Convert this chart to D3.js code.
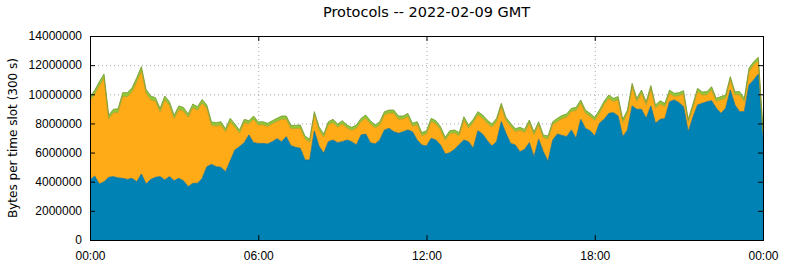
<!DOCTYPE html>
<html>
<head>
<meta charset="utf-8">
<script src="https://cdn.jsdelivr.net/npm/d3@7"></script>
<style>
  body { margin: 0; background: #fff; }
  svg { display: block; font-family: "DejaVu Sans", sans-serif; }
  .grid line { stroke: #a8a8a8; stroke-dasharray: 1,3; }
  .grid path { display: none; }
  .axis path { display: none; }
  .axis line { stroke: #000; }
  .axis text { font-size: 12px; fill: #000; }
</style>
</head>
<body>
<div id="chart"></div>
<script>
// 10 minute slots, 2022-02-09 00:00 .. 24:00 GMT, values in million bytes
var title = "Protocols -- 2022-02-09 GMT";
var yLabel = "Bytes per time slot (300 s)";
var yTicks = [0, 2000000, 4000000, 6000000, 8000000, 10000000, 12000000, 14000000];
var xTickLabels = ["00:00", "06:00", "12:00", "18:00", "00:00"];

// top of the whole stack
var total = [
  9.84, 10.27, 10.87, 11.39, 8.56, 8.97, 9.01, 10.11, 10.11, 10.45, 11.14, 11.90,
  10.34, 9.88, 9.77, 9.04, 9.88, 9.49, 8.56, 9.20, 9.10, 8.65, 9.33, 9.15,
  9.65, 9.26, 8.10, 8.05, 8.12, 7.64, 8.35, 7.96, 7.55, 8.28, 8.19, 8.51,
  8.10, 8.12, 8.01, 8.19, 8.35, 8.51, 8.51, 7.87, 7.87, 7.89, 7.14, 6.91,
  8.81, 7.78, 7.27, 8.12, 8.28, 7.96, 8.19, 7.89, 7.73, 7.89, 8.35, 8.58,
  8.19, 7.89, 8.12, 8.81, 8.92, 8.92, 8.51, 8.51, 8.69, 8.01, 8.12, 7.37,
  7.50, 8.35, 8.19, 7.78, 7.05, 7.50, 7.55, 7.37, 8.46, 7.89, 8.28, 8.81,
  8.58, 8.23, 7.96, 8.35, 9.38, 8.42, 8.01, 7.64, 7.73, 7.59, 8.23, 7.43,
  8.12, 7.21, 7.14, 8.12, 8.35, 8.55, 8.65, 9.04, 9.10, 9.61, 8.92, 8.69,
  8.42, 8.92, 9.52, 9.95, 9.72, 9.84, 8.28, 8.92, 10.75, 9.72, 10.29, 9.49,
  10.60, 9.27, 9.56, 9.38, 10.29, 10.07, 10.11, 10.25, 8.28, 9.33, 10.41, 10.16,
  10.18, 10.52, 9.72, 9.84, 9.95, 11.21, 10.18, 10.18, 9.72, 11.78, 12.24, 12.54,
  7.60
];

var blue = [
  4.12, 4.39, 3.84, 4.00, 4.30, 4.35, 4.26, 4.23, 4.16, 4.23, 4.00, 4.53,
  3.84, 4.16, 4.30, 4.35, 4.12, 4.35, 4.07, 4.23, 4.07, 3.66, 3.89, 3.89,
  4.23, 5.03, 5.19, 5.03, 4.99, 4.69, 5.42, 6.18, 6.41, 6.68, 7.21, 6.68,
  6.63, 6.63, 6.59, 6.75, 6.95, 6.75, 7.09, 6.47, 6.36, 6.29, 5.49, 5.49,
  7.48, 6.45, 5.95, 6.75, 6.86, 6.68, 6.75, 6.86, 6.75, 6.52, 7.21, 7.27,
  6.68, 6.59, 6.86, 7.55, 7.66, 7.43, 7.32, 7.43, 7.55, 7.43, 6.86, 6.52,
  6.45, 6.98, 6.86, 6.52, 5.90, 5.99, 6.22, 6.56, 6.86, 6.75, 6.29, 7.50,
  7.27, 6.82, 6.45, 6.75, 8.12, 7.32, 6.63, 6.52, 6.06, 6.22, 6.68, 5.72,
  6.91, 6.06, 5.40, 6.86, 7.27, 7.18, 7.09, 7.55, 6.98, 8.28, 7.66, 7.50,
  7.14, 8.01, 8.28, 8.69, 8.74, 8.51, 7.09, 7.55, 9.20, 8.97, 8.97, 8.35,
  9.20, 8.01, 8.28, 8.33, 9.49, 9.61, 9.43, 9.15, 7.43, 8.42, 9.27, 9.38,
  9.49, 9.56, 9.04, 8.69, 9.04, 10.29, 9.27, 8.81, 8.81, 10.64, 10.98, 11.39,
  7.00
];

var green = [
  0.26, 0.26, 0.28, 0.28, 0.24, 0.24, 0.26, 0.26, 0.28, 0.26, 0.28, 0.28,
  0.26, 0.26, 0.24, 0.24, 0.26, 0.24, 0.22, 0.24, 0.24, 0.22, 0.24, 0.24,
  0.24, 0.24, 0.22, 0.22, 0.22, 0.21, 0.22, 0.21, 0.21, 0.21, 0.21, 0.22,
  0.21, 0.21, 0.21, 0.21, 0.21, 0.22, 0.22, 0.21, 0.21, 0.21, 0.20, 0.20,
  0.21, 0.21, 0.20, 0.21, 0.21, 0.21, 0.21, 0.20, 0.20, 0.21, 0.21, 0.21,
  0.21, 0.20, 0.21, 0.21, 0.21, 0.21, 0.21, 0.21, 0.21, 0.20, 0.20, 0.20,
  0.20, 0.21, 0.21, 0.20, 0.20, 0.20, 0.20, 0.20, 0.21, 0.20, 0.21, 0.21,
  0.21, 0.21, 0.20, 0.21, 0.21, 0.21, 0.20, 0.20, 0.20, 0.20, 0.21, 0.20,
  0.20, 0.20, 0.20, 0.20, 0.21, 0.21, 0.21, 0.21, 0.21, 0.21, 0.21, 0.21,
  0.20, 0.21, 0.21, 0.22, 0.21, 0.21, 0.20, 0.21, 0.22, 0.21, 0.21, 0.21,
  0.22, 0.21, 0.21, 0.21, 0.21, 0.21, 0.21, 0.21, 0.20, 0.21, 0.21, 0.21,
  0.21, 0.22, 0.21, 0.21, 0.21, 0.22, 0.21, 0.21, 0.21, 0.22, 0.22, 0.22,
  0.20
];

var colors = ["#0083b4", "#ffaa17", "#8fc83a"];
var edges = ["#0a6f98", "#b59a22", "#74952a"];

// 1: dimensions
var margin = {top: 36, right: 22, bottom: 24, left: 90};
var width = 785 - margin.left - margin.right,
    height = 264 - margin.top - margin.bottom;

var svg = d3.select("#chart").append("svg")
    .attr("width", width + margin.left + margin.right)
    .attr("height", height + margin.top + margin.bottom);

var g = svg.append("g")
    .attr("transform", "translate(" + margin.left + "," + margin.top + ")");

// 2: data table, orange is what is left between blue and green
var t0 = Date.UTC(2022, 1, 9);
var rows = total.map(function(t, i) {
  var other = Math.max(0, t - blue[i] - green[i]);
  return {
    time: new Date(t0 + i * 600000),
    blue: blue[i] * 1e6,
    other: other * 1e6,
    green: green[i] * 1e6
  };
});

var keys = ["blue", "other", "green"];
var series = d3.stack().keys(keys)(rows);

// 3: scales
var x = d3.scaleUtc()
    .domain([new Date(t0), new Date(t0 + 86400000)])
    .range([0, width]);
var y = d3.scaleLinear()
    .domain([0, 14000000])
    .range([height, 0]);

var xTickValues = xTickLabels.map(function(d, i) { return new Date(t0 + i * 6 * 3600000); });

// 4: grid
g.append("g")
    .attr("class", "grid")
    .attr("transform", "translate(0," + height + ")")
    .call(d3.axisBottom(x).tickValues(xTickValues.slice(1, -1)).tickSize(-height).tickFormat(""));
g.append("g")
    .attr("class", "grid")
    .call(d3.axisLeft(y).tickValues(yTicks.slice(1, -1)).tickSize(-width).tickFormat(""));

// 5: stacked areas
var area = d3.area()
    .x(function(d) { return x(d.data.time); })
    .y0(function(d) { return y(d[0]); })
    .y1(function(d) { return y(d[1]); });

var topLine = d3.line()
    .x(function(d) { return x(d.data.time); })
    .y(function(d) { return y(d[1]); });

g.selectAll(".layer")
    .data(series)
  .enter().append("path")
    .attr("class", "layer")
    .attr("fill", function(d, i) { return colors[i]; })
    .attr("d", area);

g.selectAll(".edge")
    .data(series)
  .enter().append("path")
    .attr("class", "edge")
    .attr("fill", "none")
    .attr("stroke", function(d, i) { return edges[i]; })
    .attr("stroke-width", 0.8)
    .attr("d", topLine);

// 6: axes, ticks point inwards on all four sides
var fmtTime = function(d, i) { return xTickLabels[i]; };

g.append("g")
    .attr("class", "axis")
    .attr("transform", "translate(0," + height + ")")
    .call(d3.axisBottom(x).tickValues(xTickValues).tickSize(-5).tickPadding(11).tickFormat(fmtTime));
g.append("g")
    .attr("class", "axis")
    .call(d3.axisTop(x).tickValues(xTickValues).tickSize(-5).tickFormat(""));
g.append("g")
    .attr("class", "axis")
    .call(d3.axisLeft(y).tickValues(yTicks).tickSize(-5).tickPadding(8).tickFormat(d3.format("d")));
g.append("g")
    .attr("class", "axis")
    .attr("transform", "translate(" + width + ",0)")
    .call(d3.axisRight(y).tickValues(yTicks).tickSize(-5).tickFormat(""));

g.append("rect")
    .attr("x", 0.5)
    .attr("y", 0.5)
    .attr("width", width)
    .attr("height", height)
    .attr("fill", "none")
    .attr("stroke", "#000")
    .attr("stroke-width", 1);

// 7: labels
svg.append("text")
    .attr("x", margin.left + width / 2)
    .attr("y", 16.5)
    .attr("text-anchor", "middle")
    .style("font-size", "14.5px")
    .text(title);

svg.append("text")
    .attr("text-anchor", "middle")
    .attr("transform", "translate(16.5," + (margin.top + height / 2) + ")rotate(-90)")
    .style("font-size", "12px")
    .text(yLabel);
</script>
</body>
</html>
